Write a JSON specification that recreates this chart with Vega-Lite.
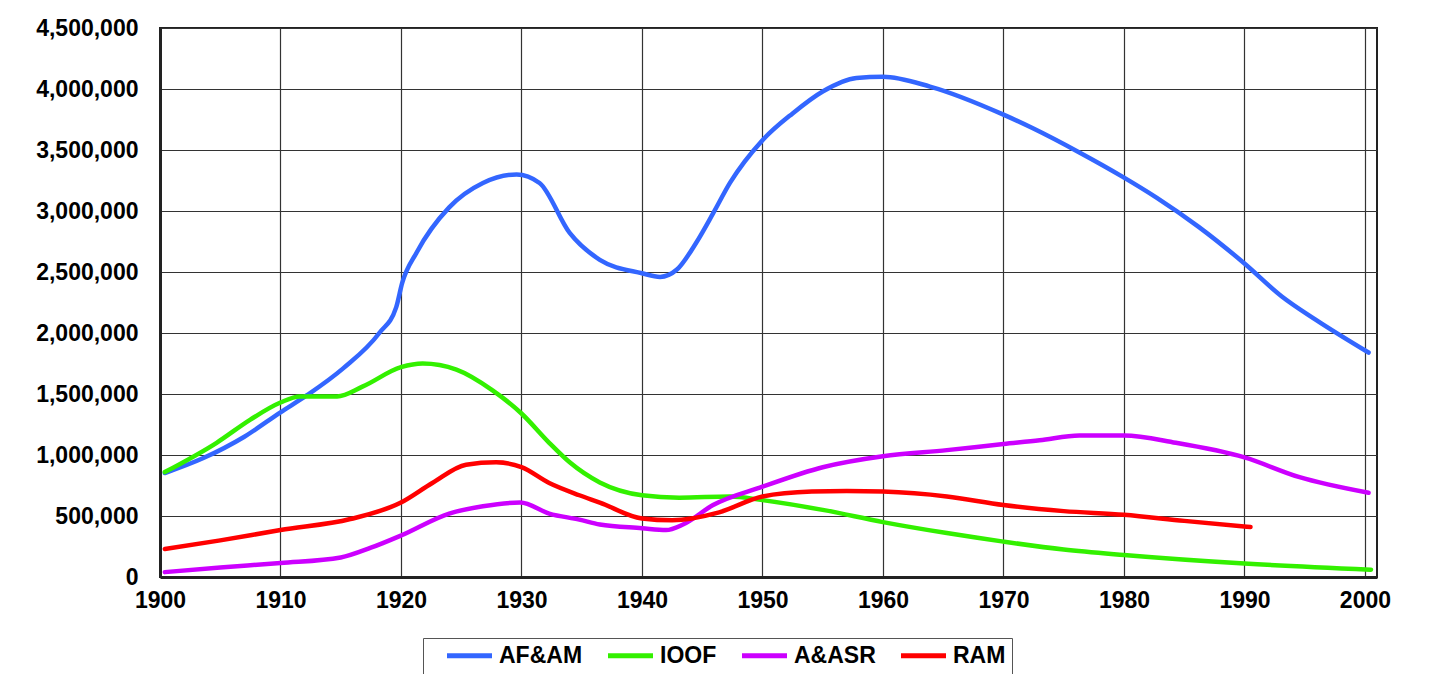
{
  "$schema": "https://vega.github.io/schema/vega-lite/v6.json",
  "width": 1217,
  "height": 549,
  "autosize": "none",
  "padding": {"left": 160, "top": 28, "right": 70, "bottom": 97},
  "background": "white",
  "data": {
    "values": [
      {"org": "AF&AM", "year": 1900.4, "members": 852000},
      {"org": "AF&AM", "year": 1903.6, "members": 975000},
      {"org": "AF&AM", "year": 1907, "members": 1150000},
      {"org": "AF&AM", "year": 1910, "members": 1350000},
      {"org": "AF&AM", "year": 1912.2, "members": 1490000},
      {"org": "AF&AM", "year": 1915.2, "members": 1710000},
      {"org": "AF&AM", "year": 1918.2, "members": 2000000},
      {"org": "AF&AM", "year": 1919.6, "members": 2210000},
      {"org": "AF&AM", "year": 1920.1, "members": 2410000},
      {"org": "AF&AM", "year": 1921.3, "members": 2660000},
      {"org": "AF&AM", "year": 1924, "members": 3030000},
      {"org": "AF&AM", "year": 1926.8, "members": 3230000},
      {"org": "AF&AM", "year": 1929.6, "members": 3300000},
      {"org": "AF&AM", "year": 1931.5, "members": 3230000},
      {"org": "AF&AM", "year": 1934, "members": 2820000},
      {"org": "AF&AM", "year": 1936.5, "members": 2600000},
      {"org": "AF&AM", "year": 1940, "members": 2490000},
      {"org": "AF&AM", "year": 1941.5, "members": 2460000},
      {"org": "AF&AM", "year": 1942.9, "members": 2520000},
      {"org": "AF&AM", "year": 1944.5, "members": 2740000},
      {"org": "AF&AM", "year": 1945.9, "members": 2980000},
      {"org": "AF&AM", "year": 1947.3, "members": 3230000},
      {"org": "AF&AM", "year": 1950, "members": 3580000},
      {"org": "AF&AM", "year": 1952.5, "members": 3800000},
      {"org": "AF&AM", "year": 1955, "members": 3980000},
      {"org": "AF&AM", "year": 1957.8, "members": 4090000},
      {"org": "AF&AM", "year": 1960, "members": 4100000},
      {"org": "AF&AM", "year": 1963.9, "members": 4020000},
      {"org": "AF&AM", "year": 1970, "members": 3790000},
      {"org": "AF&AM", "year": 1972.4, "members": 3680000},
      {"org": "AF&AM", "year": 1976.3, "members": 3480000},
      {"org": "AF&AM", "year": 1979.9, "members": 3280000},
      {"org": "AF&AM", "year": 1982.7, "members": 3110000},
      {"org": "AF&AM", "year": 1986.2, "members": 2870000},
      {"org": "AF&AM", "year": 1990, "members": 2570000},
      {"org": "AF&AM", "year": 1993.1, "members": 2300000},
      {"org": "AF&AM", "year": 1995.9, "members": 2110000},
      {"org": "AF&AM", "year": 2000.3, "members": 1840000},

      {"org": "IOOF", "year": 1900.4, "members": 860000},
      {"org": "IOOF", "year": 1904.7, "members": 1100000},
      {"org": "IOOF", "year": 1907.5, "members": 1290000},
      {"org": "IOOF", "year": 1910, "members": 1430000},
      {"org": "IOOF", "year": 1911.6, "members": 1480000},
      {"org": "IOOF", "year": 1914.7, "members": 1480000},
      {"org": "IOOF", "year": 1916.8, "members": 1560000},
      {"org": "IOOF", "year": 1920, "members": 1720000},
      {"org": "IOOF", "year": 1921.8, "members": 1750000},
      {"org": "IOOF", "year": 1924.6, "members": 1700000},
      {"org": "IOOF", "year": 1927.6, "members": 1530000},
      {"org": "IOOF", "year": 1930, "members": 1340000},
      {"org": "IOOF", "year": 1932.3, "members": 1100000},
      {"org": "IOOF", "year": 1934, "members": 940000},
      {"org": "IOOF", "year": 1936.5, "members": 775000},
      {"org": "IOOF", "year": 1940, "members": 670000},
      {"org": "IOOF", "year": 1943.1, "members": 650000},
      {"org": "IOOF", "year": 1947.3, "members": 660000},
      {"org": "IOOF", "year": 1950, "members": 630000},
      {"org": "IOOF", "year": 1955, "members": 550000},
      {"org": "IOOF", "year": 1960, "members": 450000},
      {"org": "IOOF", "year": 1965.3, "members": 360000},
      {"org": "IOOF", "year": 1970, "members": 290000},
      {"org": "IOOF", "year": 1975, "members": 225000},
      {"org": "IOOF", "year": 1980, "members": 180000},
      {"org": "IOOF", "year": 1990, "members": 110000},
      {"org": "IOOF", "year": 2000.5, "members": 60000},

      {"org": "A&ASR", "year": 1900.4, "members": 40000},
      {"org": "A&ASR", "year": 1905, "members": 78000},
      {"org": "A&ASR", "year": 1910, "members": 115000},
      {"org": "A&ASR", "year": 1915, "members": 160000},
      {"org": "A&ASR", "year": 1917.5, "members": 240000},
      {"org": "A&ASR", "year": 1920, "members": 340000},
      {"org": "A&ASR", "year": 1924, "members": 520000},
      {"org": "A&ASR", "year": 1926.8, "members": 580000},
      {"org": "A&ASR", "year": 1929.9, "members": 610000},
      {"org": "A&ASR", "year": 1932.3, "members": 520000},
      {"org": "A&ASR", "year": 1934.8, "members": 470000},
      {"org": "A&ASR", "year": 1936.5, "members": 430000},
      {"org": "A&ASR", "year": 1940, "members": 400000},
      {"org": "A&ASR", "year": 1942, "members": 385000},
      {"org": "A&ASR", "year": 1943.4, "members": 430000},
      {"org": "A&ASR", "year": 1945.9, "members": 590000},
      {"org": "A&ASR", "year": 1950, "members": 740000},
      {"org": "A&ASR", "year": 1955, "members": 900000},
      {"org": "A&ASR", "year": 1960, "members": 990000},
      {"org": "A&ASR", "year": 1965.3, "members": 1040000},
      {"org": "A&ASR", "year": 1970, "members": 1090000},
      {"org": "A&ASR", "year": 1973, "members": 1120000},
      {"org": "A&ASR", "year": 1976.3, "members": 1160000},
      {"org": "A&ASR", "year": 1980, "members": 1160000},
      {"org": "A&ASR", "year": 1984.3, "members": 1100000},
      {"org": "A&ASR", "year": 1990, "members": 980000},
      {"org": "A&ASR", "year": 1994.5, "members": 820000},
      {"org": "A&ASR", "year": 2000.3, "members": 690000},

      {"org": "RAM", "year": 1900.4, "members": 230000},
      {"org": "RAM", "year": 1905, "members": 300000},
      {"org": "RAM", "year": 1910, "members": 385000},
      {"org": "RAM", "year": 1915.8, "members": 475000},
      {"org": "RAM", "year": 1920, "members": 610000},
      {"org": "RAM", "year": 1922.6, "members": 770000},
      {"org": "RAM", "year": 1925.4, "members": 920000},
      {"org": "RAM", "year": 1927.9, "members": 940000},
      {"org": "RAM", "year": 1930, "members": 900000},
      {"org": "RAM", "year": 1932.3, "members": 770000},
      {"org": "RAM", "year": 1934.8, "members": 670000},
      {"org": "RAM", "year": 1936.5, "members": 610000},
      {"org": "RAM", "year": 1940, "members": 480000},
      {"org": "RAM", "year": 1942.5, "members": 465000},
      {"org": "RAM", "year": 1946.4, "members": 530000},
      {"org": "RAM", "year": 1950, "members": 660000},
      {"org": "RAM", "year": 1954.1, "members": 700000},
      {"org": "RAM", "year": 1957, "members": 705000},
      {"org": "RAM", "year": 1960, "members": 700000},
      {"org": "RAM", "year": 1965.3, "members": 660000},
      {"org": "RAM", "year": 1970, "members": 590000},
      {"org": "RAM", "year": 1975, "members": 540000},
      {"org": "RAM", "year": 1980, "members": 510000},
      {"org": "RAM", "year": 1985, "members": 460000},
      {"org": "RAM", "year": 1990.5, "members": 410000}
    ]
  },
  "mark": {"type": "line", "interpolate": "monotone", "strokeWidth": 4.5, "strokeCap": "round", "strokeJoin": "round"},
  "encoding": {
    "x": {
      "field": "year",
      "type": "quantitative",
      "scale": {"domain": [1900, 2001], "nice": false, "zero": false},
      "axis": {
        "title": null,
        "values": [1900, 1910, 1920, 1930, 1940, 1950, 1960, 1970, 1980, 1990, 2000],
        "format": "d",
        "labelFlush": false,
        "labelPadding": 12,
        "labelBaseline": "top"
      }
    },
    "y": {
      "field": "members",
      "type": "quantitative",
      "scale": {"domain": [0, 4500000], "nice": false},
      "axis": {
        "title": null,
        "values": [0, 500000, 1000000, 1500000, 2000000, 2500000, 3000000, 3500000, 4000000, 4500000],
        "format": ",d",
        "labelFlush": false,
        "labelPadding": 22,
        "labelBaseline": "middle"
      }
    },
    "color": {
      "field": "org",
      "type": "nominal",
      "scale": {
        "domain": ["AF&AM", "IOOF", "A&ASR", "RAM"],
        "range": ["#3366FF", "#33F000", "#CC00FF", "#FF0000"]
      },
      "legend": {
        "title": null,
        "orient": "none",
        "direction": "horizontal",
        "legendX": 263,
        "legendY": 610,
        "strokeColor": "#555555",
        "padding": 6,
        "symbolType": "M-4.5,0H4.5",
        "symbolSize": 100,
        "symbolStrokeWidth": 5,
        "symbolOffset": 29,
        "labelOffset": 18,
        "columnPadding": 7,
        "labelFont": "Liberation Sans",
        "labelFontWeight": "bold",
        "labelFontSize": 23,
        "labelColor": "#000000",
        "labelLimit": 300
      }
    }
  },
  "config": {
    "view": {"stroke": "#222222", "strokeWidth": 2},
    "axis": {
      "grid": true,
      "gridColor": "#333333",
      "gridWidth": 1.2,
      "gridOpacity": 1,
      "domainColor": "#222222",
      "domainWidth": 3,
      "ticks": false,
      "labelFont": "Liberation Sans",
      "labelFontWeight": "bold",
      "labelFontSize": 23,
      "labelColor": "#000000"
    }
  }
}
